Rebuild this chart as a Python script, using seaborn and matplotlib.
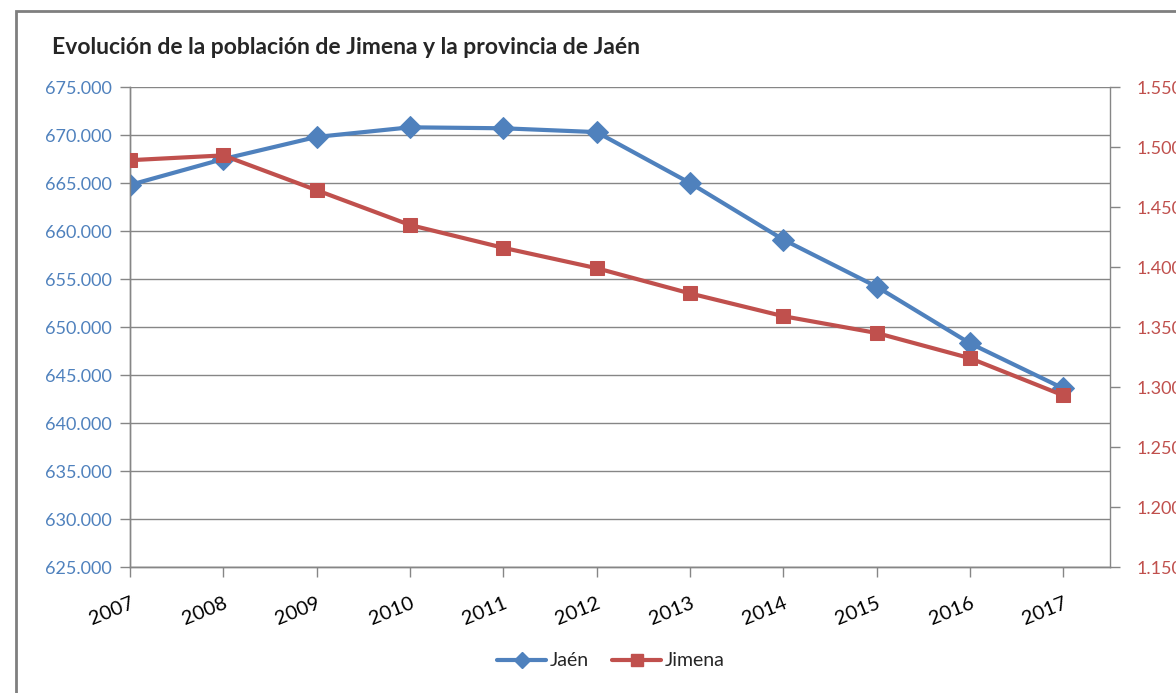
import pandas as pd
import matplotlib.pyplot as plt
import seaborn as sns
from matplotlib.patches import Rectangle
from matplotlib.lines import Line2D
from matplotlib.ticker import FuncFormatter

years = ['2007', '2008', '2009', '2010', '2011', '2012', '2013', '2014', '2015', '2016', '2017']
jaen = [664800, 667500, 669800, 670800, 670700, 670300, 665000, 659100, 654200, 648300, 643600]
jimena = [1489, 1493, 1464, 1435, 1416, 1399, 1378, 1359, 1345, 1324, 1293]

df = pd.DataFrame({'year': years, 'pos': range(len(years)), 'Jaén': jaen, 'Jimena': jimena})

sns.set_style('white')
plt.rcParams['font.family'] = ['Lato', 'DejaVu Sans']

blue = '#4F81BD'
red = '#C0504D'
grey = '#868686'

fig = plt.figure(figsize=(11.76, 6.93), dpi=100)
ax = fig.add_axes([130 / 1176, 1 - 567 / 693, 980 / 1176, 480 / 693])
ax2 = ax.twinx()

sns.lineplot(data=df, x='pos', y='Jaén', ax=ax, color=blue, linewidth=3,
             marker='D', markersize=11, markeredgecolor=blue, zorder=3)
sns.lineplot(data=df, x='pos', y='Jimena', ax=ax2, color=red, linewidth=3,
             marker='s', markersize=9.5, markeredgecolor=red, zorder=3)

ax.set_xlim(0, 10.5)
ax.set_ylim(625000, 675000)
ax.set_yticks(range(625000, 675001, 5000))
ax.yaxis.set_major_formatter(FuncFormatter(lambda v, p: f'{v / 1000:.3f}'))
ax2.set_ylim(1150, 1550)
ax2.set_yticks(range(1150, 1551, 50))
ax2.yaxis.set_major_formatter(FuncFormatter(lambda v, p: f'{v / 1000:.3f}'))

ax.set_xticks(df['pos'])
ax.set_xticklabels(years, rotation=22, ha='right', rotation_mode='anchor', fontsize=14.5)

ax.grid(axis='y', color=grey, linewidth=1)
ax.set_axisbelow(True)
ax.set_xlabel('')
ax.set_ylabel('')
ax2.set_ylabel('')

for a in (ax, ax2):
    for side in ('left', 'right', 'bottom'):
        a.spines[side].set_color(grey)
        a.spines[side].set_linewidth(1)
    a.spines['top'].set_visible(False)
ax.spines['right'].set_visible(False)

ax.tick_params(axis='y', colors=grey, labelcolor=blue, labelsize=13, length=7, width=1, direction='out', left=True, pad=6)
ax.tick_params(axis='x', colors=grey, labelcolor='black', length=7, width=1, direction='out', bottom=True, pad=13)
ax2.tick_params(axis='y', colors=grey, labelcolor=red, labelsize=13, length=7, width=1, direction='out', right=True, pad=12)

handles = [Line2D([], [], color=blue, linewidth=3, marker='D', markersize=8),
           Line2D([], [], color=red, linewidth=3, marker='s', markersize=8)]
if ax.get_legend():
    ax.get_legend().remove()
fig.legend(handles, ['Jaén', 'Jimena'], loc='center', bbox_to_anchor=(611 / 1176, 1 - 661 / 693),
           ncol=2, frameon=False, fontsize=14, handlelength=2.5, handletextpad=0.2, columnspacing=1.2)

fig.text(52 / 1176, 1 - 48 / 693, 'Evolución de la población de Jimena y la provincia de Jaén',
         fontsize=16.5, fontweight='bold', va='center', ha='left')

fig.patches.append(Rectangle((16 / 1176, -0.1), 1.2, 1.1 - 11 / 693, transform=fig.transFigure,
                             fill=False, edgecolor='#7f7f7f', linewidth=2, clip_on=False))

fig.savefig('out.png', dpi=100)
